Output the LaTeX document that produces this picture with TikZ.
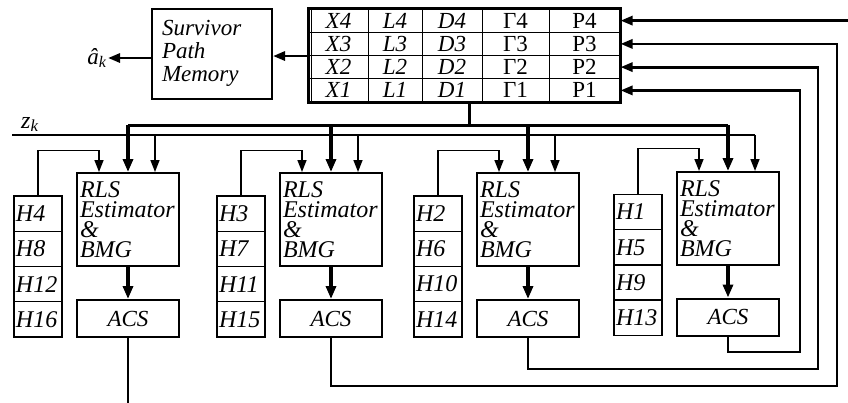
\documentclass[tikz,border=0pt]{standalone}
\usepackage{fontspec}
\setmainfont{Liberation Serif}
\usetikzlibrary{arrows.meta}

\begin{document}
\begin{tikzpicture}[x=1pt,y=-1pt,
  blk/.style={draw,line width=2pt,inner xsep=3pt,inner ysep=0pt,font=\fontsize{24}{20}\selectfont\itshape},
  rls/.style={blk,text width=96pt,minimum height=93pt,align=left},
  acs/.style={blk,minimum width=102pt,minimum height=37pt,font=\fontsize{23}{23}\selectfont\itshape},
  hcell/.style={draw,line width=1.4pt,text width=44pt,minimum height=35.25pt,inner xsep=2pt,inner ysep=0pt,align=left,font=\fontsize{24}{24}\selectfont\itshape},
  cell/.style={draw,line width=1pt,minimum height=23.25pt,inner sep=0pt,font=\fontsize{23}{23}\selectfont},
  smallarrow/.style={line width=1.5pt,-{Triangle[length=12pt,width=9pt]}},
  bigarrow/.style={line width=3.2pt,-{Triangle[length=13pt,width=10pt]}},
  fb/.style={line width=2.8pt},
  ]
\useasboundingbox (0,0) rectangle (848,402);

% survivor memory and state table
\node[blk,text width=100pt,inner xsep=10pt,minimum height=90pt,align=left,font=\fontsize{23}{23}\selectfont\itshape] (survivor) at (212,53.5) {Survivor\\Path\\Memory};
\foreach \r/\y in {4/20.6,3/43.9,2/67.1,1/90.4}{
  \node[cell,minimum width=59pt] (x\r) at (338.5,\y) {\itshape X\r};
  \node[cell,minimum width=54pt] (l\r) at (395,\y) {\itshape L\r};
  \node[cell,minimum width=60pt] (d\r) at (452,\y) {\itshape D\r};
  \node[cell,minimum width=67pt] (g\r) at (515.5,\y) {Γ\r};
  \node[cell,minimum width=71pt] (p\r) at (584.5,\y) {P\r};
}
\draw[line width=2.6pt] (x4.north west) rectangle (p1.south east);
\draw[line width=1.2pt] ([xshift=3pt]x4.north west) -- ([xshift=3pt]x1.south west);
\draw[fb,-{Triangle[length=12pt,width=9pt]}] (x3.south west) -- (x3.south west -| survivor.east);
\coordinate (ahat) at (108,58);
\draw[fb,-{Triangle[length=12pt,width=9pt]}] (survivor.west |- ahat) -- (ahat);
\node[left,inner sep=1pt,font=\fontsize{23}{23}\selectfont] at (ahat) {\textit{â}\textsubscript{\textit{k}}};

% bus from the table and input z_k
\coordinate (tap) at (469,125);
\coordinate (zin) at (12,135);
\node[above right,xshift=6pt,inner sep=3pt,font=\fontsize{24}{24}\selectfont] at (zin) {\textit{z}\textsubscript{\textit{k}}};

% H4 branch
\node[hcell] (h4) at (38,213.6) {H4};
\node[hcell] (h8) at (38,248.9) {H8};
\node[hcell] (h12) at (38,284.1) {H12};
\node[hcell] (h16) at (38,319.4) {H16};
\node[rls] (rls4) at (128,219.5) {RLS\\Estimator\\\&\\BMG};
\node[acs] (acs4) at (128,318.5) {ACS};

% H3 branch
\begin{scope}[xshift=203]
\node[hcell] (h3) at (38,213.6) {H3};
\node[hcell] (h7) at (38,248.9) {H7};
\node[hcell] (h11) at (38,284.1) {H11};
\node[hcell] (h15) at (38,319.4) {H15};
\node[rls] (rls3) at (128,219.5) {RLS\\Estimator\\\&\\BMG};
\node[acs] (acs3) at (128,318.5) {ACS};
\end{scope}

% H2 branch
\begin{scope}[xshift=400]
\node[hcell] (h2) at (38,213.6) {H2};
\node[hcell] (h6) at (38,248.9) {H6};
\node[hcell] (h10) at (38,284.1) {H10};
\node[hcell] (h14) at (38,319.4) {H14};
\node[rls] (rls2) at (128,219.5) {RLS\\Estimator\\\&\\BMG};
\node[acs] (acs2) at (128,318.5) {ACS};
\end{scope}

% H1 branch
\begin{scope}[xshift=600]
\node[hcell] (h1) at (38,212) {H1};
\node[hcell] (h5) at (38,247.3) {H5};
\node[hcell] (h9) at (38,282.5) {H9};
\node[hcell] (h13) at (38,317.8) {H13};
\node[rls] (rls1) at (128,218.5) {RLS\\Estimator\\\&\\BMG};
\node[acs] (acs1) at (128,317) {ACS};
\end{scope}

\draw[line width=3pt] (tap |- d1.south) -- (tap);
\draw[line width=3pt] (rls4.north |- tap) -- (rls1.north |- tap);
\draw[line width=2.4pt] (zin) -- ([xshift=27pt]rls1.north |- zin);
\foreach \k in {1,2,3,4}{
  \draw[bigarrow] (rls\k.north |- tap) -- (rls\k.north);
  \draw[smallarrow] ([xshift=27pt]rls\k.north |- zin) -- ([xshift=27pt]rls\k.north);
  \draw[bigarrow] (rls\k) -- (acs\k);
  \draw[smallarrow] (h\k.north) -- ++(0,-45) -| ([xshift=-29pt]rls\k.north);
}

% path metrics back to the table
\coordinate (fb1) at (800,352);
\coordinate (fb2) at (818,369);
\coordinate (fb3) at (837,386);
\coordinate (fb4) at (848,20.6);
\draw[fb] (acs4.south) -- ++(0,66);
\draw[fb,-{Triangle[length=12pt,width=9pt]}] (fb4) -- (p4.east);
\draw[fb,-{Triangle[length=12pt,width=9pt]}] (acs3.south) |- (fb3) |- (p3.east);
\draw[fb,-{Triangle[length=12pt,width=9pt]}] (acs2.south) |- (fb2) |- (p2.east);
\draw[fb,-{Triangle[length=12pt,width=9pt]}] (acs1.south) |- (fb1) |- (p1.east);
\end{tikzpicture}
\end{document}
